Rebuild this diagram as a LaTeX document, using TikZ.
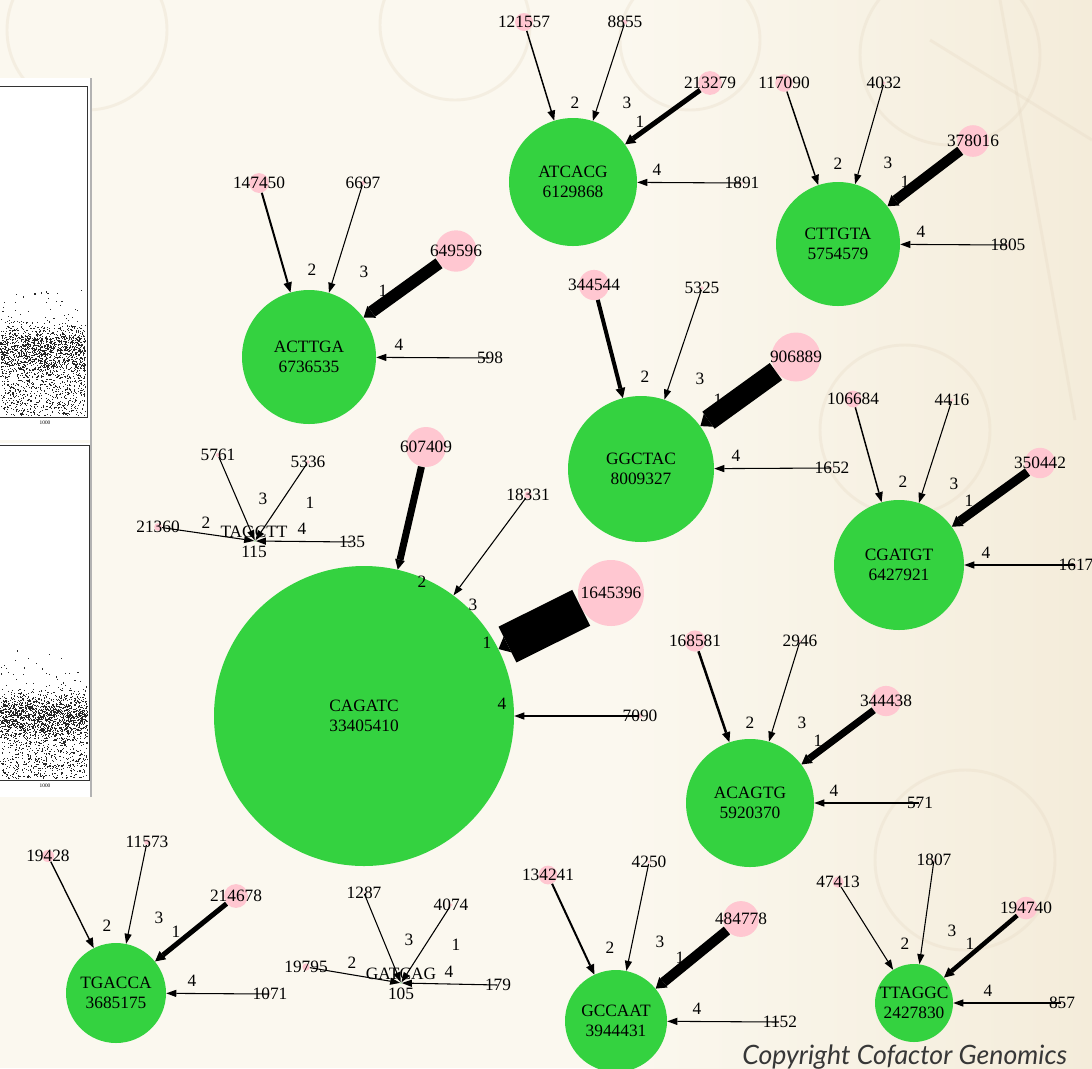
\documentclass[tikz,border=0pt]{standalone}
\usepackage{fontspec}
\setmainfont{Liberation Serif}
\newfontfamily\cpfont{Lato}
\usetikzlibrary{arrows.meta}
\definecolor{bgc}{RGB}{251,248,239}
\definecolor{bgr}{RGB}{244,236,218}
\definecolor{stamp}{RGB}{230,216,195}
\definecolor{pinkc}{RGB}{255,199,209}
\definecolor{greenc}{RGB}{52,210,64}
\definecolor{cpc}{RGB}{55,55,55}
\newcommand\mysrc[4]{\node[src=#4] (s#1) at (#2,#3) {};\node[lbl] (t#1) at (#2,#3) {#1};}
\newcommand\myedge[4]{\draw[ed={#3}{#4}] (s#1) -- (g#2);}
\newcommand\elab[4]{\node[lbl] (e#1) at (#2,#3) {#4};}
\begin{document}
\begin{tikzpicture}[x=0.75pt,y=-0.75pt,
  lbl/.style={inner sep=0pt, font=\fontsize{13}{15}\selectfont},
  src/.style={circle, fill=pinkc, inner sep=0pt, minimum size=1.5*#1pt},
  gn/.style={circle, fill=greenc, inner sep=0pt, minimum size=1.5*#1pt, align=center, font=\fontsize{13}{15}\selectfont},
  ed/.style 2 args={line width=#1, -{Triangle[length=7.5pt,width=#2,line width=0pt]}},
  stampline/.style={draw=stamp, line width=2.2pt, opacity=0.3},
]
\useasboundingbox (0,0) rectangle (1092,1068);
\clip (0,0) rectangle (1092,1068);
% background
\fill[bgc] (0,0) rectangle (1092,1068);
\shade[left color=bgc, right color=bgr] (620,0) rectangle (1092,1068);
\draw[stampline] (87,30) circle (80);
\draw[stampline] (455,25) circle (75);
\draw[stampline] (690,40) circle (70);
\draw[stampline] (950,55) circle (90);
\draw[stampline] (905,430) circle (85);
\draw[stampline] (965,860) circle (90);
\draw[stampline] (930,40) -- (1092,140);
\draw[stampline] (1000,0) -- (1075,420);
% scatter panels
\fill[white] (0,78) rectangle (92,440);
\draw[gray!60, line width=1.2pt] (91,78) -- (91,440);
\draw[black!80, line width=0.6pt] (0,86) -- (87,86) -- (87,417) -- (0,417);
\node[font=\fontsize{4}{4}\selectfont, inner sep=0pt] (ax1) at (45,423) {1000};
\fill[white] (0,443) rectangle (92,797);
\draw[gray!60, line width=1.2pt] (91,440) -- (91,797);
\draw[black!80, line width=0.6pt] (0,445) -- (89,445) -- (89,780) -- (0,780);
\node[font=\fontsize{4}{4}\selectfont, inner sep=0pt] (ax2) at (45,786) {1000};
\pgfmathsetseed{7}
\foreach \i in {1,...,1300} {
  \pgfmathsetmacro\dx{rnd*85}
  \pgfmathsetmacro\dy{348+20*(rnd+rnd+rnd+rnd-2)}
  \fill[black!85] (\dx,\dy) rectangle ++(1.1,1.1);
}
\foreach \i in {1,...,750} {
  \pgfmathsetmacro\dx{rnd*85}
  \pgfmathsetmacro\dy{360+55*rnd}
  \fill[black!85] (\dx,\dy) rectangle ++(1.1,1.1);
}
\foreach \i in {1,...,45} {
  \pgfmathsetmacro\dx{rnd*85}
  \pgfmathsetmacro\dy{290+45*rnd}
  \fill[black!85] (\dx,\dy) rectangle ++(1.1,1.1);
}
\foreach \i in {1,...,1400} {
  \pgfmathsetmacro\dx{rnd*87}
  \pgfmathsetmacro\dy{714+18*(rnd+rnd+rnd+rnd-2)}
  \fill[black!85] (\dx,\dy) rectangle ++(1.1,1.1);
}
\foreach \i in {1,...,750} {
  \pgfmathsetmacro\dx{rnd*87}
  \pgfmathsetmacro\dy{722+56*rnd}
  \fill[black!85] (\dx,\dy) rectangle ++(1.1,1.1);
}
\foreach \i in {1,...,45} {
  \pgfmathsetmacro\dx{rnd*87}
  \pgfmathsetmacro\dy{650+50*rnd}
  \fill[black!85] (\dx,\dy) rectangle ++(1.1,1.1);
}
% ===== green nodes =====
\node[gn=64] (gATCACG) at (573,182) {ATCACG\\6129868};
\node[gn=62] (gCTTGTA) at (838,244) {CTTGTA\\5754579};
\node[gn=67] (gACTTGA) at (309,357) {ACTTGA\\6736535};
\node[gn=73] (gGGCTAC) at (641,469) {GGCTAC\\8009327};
\node[gn=65] (gCGATGT) at (899,565) {CGATGT\\6427921};
\node[gn=150] (gCAGATC) at (364,716) {CAGATC\\33405410};
\node[gn=64] (gACAGTG) at (750,803) {ACAGTG\\5920370};
\node[gn=50] (gTGACCA) at (116,993) {TGACCA\\3685175};
\node[gn=51] (gGCCAAT) at (616,1021) {GCCAAT\\3944431};
\node[gn=39] (gTTAGGC) at (914,1003) {TTAGGC\\2427830};
\node[gn=0.6] (gTAGCTT) at (255,541) {};
\node[lbl, align=center] (tTAGCTT) at (254,542) {TAGCTT\\115};
\node[gn=0.6] (gGATCAG) at (401,983) {};
\node[lbl, align=center] (tGATCAG) at (401,984) {GATCAG\\105};
% ===== sources =====
\mysrc{121557}{524}{22}{9}
\mysrc{8855}{625}{22}{2.4}
\mysrc{213279}{710}{83}{11.9}
\mysrc{1891}{742}{183}{1.1}
\mysrc{117090}{784}{83}{8.8}
\mysrc{4032}{884}{83}{1.6}
\mysrc{378016}{973}{141}{15.8}
\mysrc{1805}{1008}{245}{1.1}
\mysrc{147450}{259}{183}{9.9}
\mysrc{6697}{363}{183}{2.1}
\mysrc{649596}{456}{251}{20.7}
\mysrc{598}{490}{358}{0.6}
\mysrc{344544}{594}{285}{15.1}
\mysrc{5325}{702}{288}{1.9}
\mysrc{906889}{796}{357}{24.5}
\mysrc{1652}{832}{468}{1.0}
\mysrc{106684}{853}{399}{8.4}
\mysrc{4416}{952}{400}{1.7}
\mysrc{350442}{1040}{463}{15.2}
\mysrc{1617}{1076}{565}{1.0}
\mysrc{607409}{426}{447}{20}
\mysrc{18331}{528}{495}{3.5}
\mysrc{1645396}{611}{593}{33}
\mysrc{7090}{640}{716}{2.2}
\mysrc{168581}{695}{641}{10.6}
\mysrc{2946}{800}{641}{1.4}
\mysrc{344438}{886}{701}{15.1}
\mysrc{571}{920}{803}{0.6}
\mysrc{19428}{48}{856}{6}
\mysrc{11573}{147}{842}{2.8}
\mysrc{214678}{236}{896}{11.9}
\mysrc{1071}{270}{994}{0.8}
\mysrc{134241}{548}{875}{9.4}
\mysrc{4250}{649}{862}{1.7}
\mysrc{484778}{741}{919}{17.9}
\mysrc{1152}{780}{1022}{0.9}
\mysrc{47413}{838}{882}{5.6}
\mysrc{1807}{934}{860}{1.1}
\mysrc{194740}{1026}{908}{11.3}
\mysrc{857}{1062}{1003}{0.75}
\mysrc{21360}{158}{527}{3.8}
\mysrc{5761}{218}{455}{2}
\mysrc{5336}{308}{462}{1.9}
\mysrc{135}{352}{542}{0.3}
\mysrc{19795}{306}{967}{3.6}
\mysrc{1287}{364}{893}{0.9}
\mysrc{4074}{451}{905}{1.6}
\mysrc{179}{498}{985}{0.35}
% ===== edges =====
\myedge{121557}{ATCACG}{1.1pt}{6pt}
\myedge{8855}{ATCACG}{0.8pt}{5.5pt}
\myedge{213279}{ATCACG}{3.75pt}{8pt}
\myedge{1891}{ATCACG}{0.8pt}{5.5pt}
\myedge{117090}{CTTGTA}{1.1pt}{6pt}
\myedge{4032}{CTTGTA}{0.8pt}{5.5pt}
\myedge{378016}{CTTGTA}{7.5pt}{10pt}
\myedge{1805}{CTTGTA}{0.8pt}{5.5pt}
\myedge{147450}{ACTTGA}{1.5pt}{6.5pt}
\myedge{6697}{ACTTGA}{0.8pt}{5.5pt}
\myedge{649596}{ACTTGA}{9pt}{11pt}
\myedge{598}{ACTTGA}{0.8pt}{5.5pt}
\myedge{344544}{GGCTAC}{3pt}{7.5pt}
\myedge{5325}{GGCTAC}{0.8pt}{5.5pt}
\myedge{906889}{GGCTAC}{15.75pt}{12pt}
\myedge{1652}{GGCTAC}{0.8pt}{5.5pt}
\myedge{106684}{CGATGT}{1.1pt}{6pt}
\myedge{4416}{CGATGT}{0.8pt}{5.5pt}
\myedge{350442}{CGATGT}{6.75pt}{9.5pt}
\myedge{1617}{CGATGT}{0.8pt}{5.5pt}
\myedge{607409}{CAGATC}{5.25pt}{7.5pt}
\myedge{18331}{CAGATC}{0.8pt}{5.5pt}
\myedge{1645396}{CAGATC}{30pt}{13pt}
\myedge{7090}{CAGATC}{0.8pt}{5.5pt}
\myedge{168581}{ACAGTG}{1.9pt}{6.5pt}
\myedge{2946}{ACAGTG}{0.8pt}{5.5pt}
\myedge{344438}{ACAGTG}{5.25pt}{8.5pt}
\myedge{571}{ACAGTG}{0.8pt}{5.5pt}
\myedge{19428}{TGACCA}{1pt}{6pt}
\myedge{11573}{TGACCA}{0.8pt}{5.5pt}
\myedge{214678}{TGACCA}{3.75pt}{8pt}
\myedge{1071}{TGACCA}{0.8pt}{5.5pt}
\myedge{134241}{GCCAAT}{1.5pt}{6.5pt}
\myedge{4250}{GCCAAT}{0.8pt}{5.5pt}
\myedge{484778}{GCCAAT}{7.5pt}{10pt}
\myedge{1152}{GCCAAT}{0.8pt}{5.5pt}
\myedge{47413}{TTAGGC}{0.8pt}{5.5pt}
\myedge{1807}{TTAGGC}{0.8pt}{5.5pt}
\myedge{194740}{TTAGGC}{3.4pt}{7.5pt}
\myedge{857}{TTAGGC}{0.8pt}{5.5pt}
\myedge{21360}{TAGCTT}{0.8pt}{5.5pt}
\myedge{5761}{TAGCTT}{0.8pt}{5.5pt}
\myedge{5336}{TAGCTT}{0.8pt}{5.5pt}
\myedge{135}{TAGCTT}{0.8pt}{5.5pt}
\myedge{19795}{GATCAG}{0.8pt}{5.5pt}
\myedge{1287}{GATCAG}{0.8pt}{5.5pt}
\myedge{4074}{GATCAG}{0.8pt}{5.5pt}
\myedge{179}{GATCAG}{0.8pt}{5.5pt}
% ===== edge labels =====
\elab{ATCACGb}{575}{103}{2}\elab{ATCACGc}{627}{103}{3}\elab{ATCACGa}{640}{122}{1}\elab{ATCACGd}{657}{170}{4}
\elab{CTTGTAb}{838}{164}{2}\elab{CTTGTAc}{888}{163}{3}\elab{CTTGTAa}{905}{182}{1}\elab{CTTGTAd}{921}{232}{4}
\elab{ACTTGAb}{312}{270}{2}\elab{ACTTGAc}{364}{272}{3}\elab{ACTTGAa}{383}{291}{1}\elab{ACTTGAd}{399}{345}{4}
\elab{GGCTACb}{645}{377}{2}\elab{GGCTACc}{700}{379}{3}\elab{GGCTACa}{718}{400}{1}\elab{GGCTACd}{736}{456}{4}
\elab{CGATGTb}{903}{482}{2}\elab{CGATGTc}{954}{484}{3}\elab{CGATGTa}{969}{501}{1}\elab{CGATGTd}{986}{553}{4}
\elab{CAGATCb}{422}{582}{2}\elab{CAGATCc}{473}{605}{3}\elab{CAGATCa}{487}{643}{1}\elab{CAGATCd}{502}{704}{4}
\elab{ACAGTGb}{750}{723}{2}\elab{ACAGTGc}{802}{723}{3}\elab{ACAGTGa}{818}{741}{1}\elab{ACAGTGd}{834}{791}{4}
\elab{TGACCAb}{107}{926}{2}\elab{TGACCAc}{159}{918}{3}\elab{TGACCAa}{176}{932}{1}\elab{TGACCAd}{192}{981}{4}
\elab{GCCAATb}{610}{948}{2}\elab{GCCAATc}{660}{942}{3}\elab{GCCAATa}{680}{958}{1}\elab{GCCAATd}{697}{1009}{4}
\elab{TTAGGCb}{905}{944}{2}\elab{TTAGGCc}{952}{931}{3}\elab{TTAGGCa}{970}{944}{1}\elab{TTAGGCd}{988}{991}{4}
\elab{TAGCTTb}{206}{523}{2}\elab{TAGCTTc}{263}{499}{3}\elab{TAGCTTa}{310}{503}{1}\elab{TAGCTTd}{302}{529}{4}
\elab{GATCAGb}{352}{963}{2}\elab{GATCAGc}{409}{940}{3}\elab{GATCAGa}{456}{945}{1}\elab{GATCAGd}{449}{972}{4}
% copyright
\node[font=\cpfont\itshape\fontsize{20}{20}\selectfont, text=cpc, anchor=base west, inner sep=0pt] (copy) at (742,1064) {Copyright Cofactor Genomics};
\end{tikzpicture}
\end{document}
